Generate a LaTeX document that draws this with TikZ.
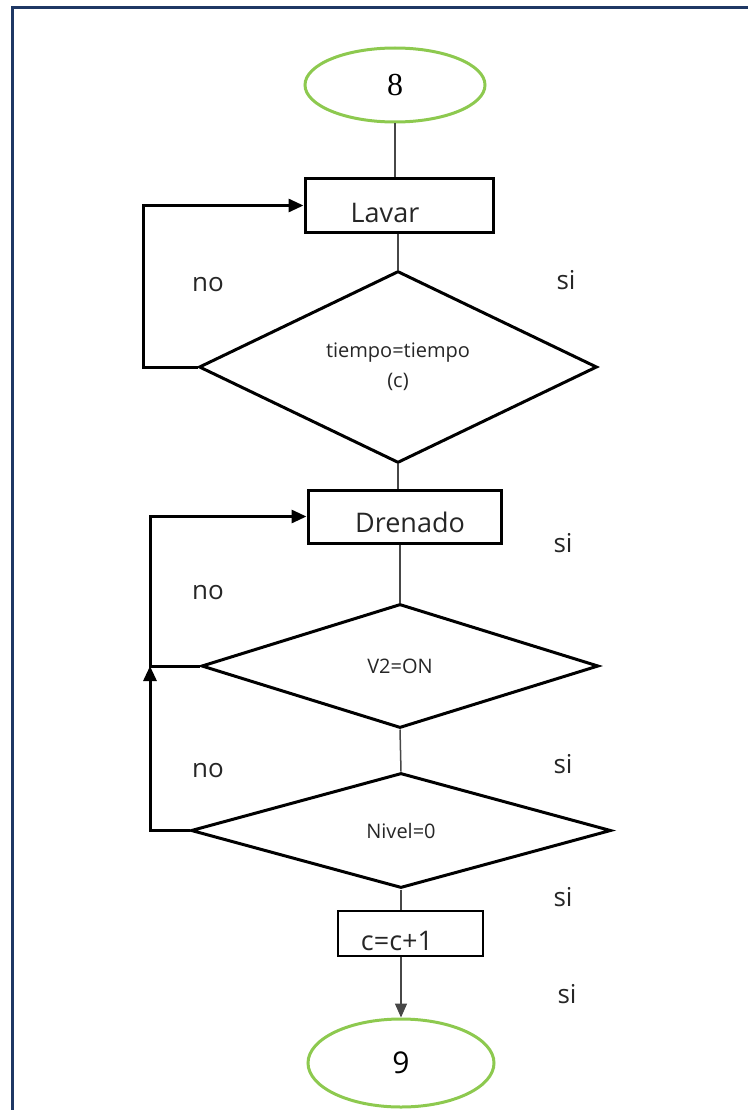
\documentclass[tikz,border=0pt]{standalone}
\usepackage{fontspec}
\setmainfont{Open Sans}
\newfontfamily\serifnum{Liberation Serif}
\usetikzlibrary{shapes.geometric,arrows.meta}
\definecolor{framenavy}{HTML}{1F3864}
\definecolor{termgreen}{HTML}{8DC94F}
\definecolor{inkgray}{HTML}{262626}
\begin{document}
\begin{tikzpicture}[x=1pt,y=-1pt,
  term/.style={ellipse,draw=termgreen,line width=3pt,inner sep=0pt},
  procbox/.style={rectangle,draw=black,line width=3pt,inner sep=0pt},
  smallbox/.style={rectangle,draw=black,line width=1.5pt,inner sep=0pt},
  decision/.style={diamond,draw=black,line width=3pt,inner sep=0pt,align=center,
    text=inkgray,font=\fontsize{20}{30}\selectfont},
  flow/.style={draw=inkgray!85,line width=1.5pt},
  loopback/.style={draw=black,line width=3pt,-{Triangle[length=15pt,width=13pt]}},
  bigtext/.style={font=\fontsize{27}{32}\selectfont,text=inkgray,inner sep=0pt},
  answer/.style={font=\fontsize{26}{30}\selectfont,text=inkgray,inner sep=0pt},
]
\useasboundingbox (0,0) rectangle (747,1110);

% page frame (open at right and bottom)
\draw[framenavy,line width=3pt] (12,1112) -- (12,8) -- (749,8);

% terminals
\node[term,minimum width=180pt,minimum height=74pt] (e8) at (395,85)
  {\serifnum\fontsize{32}{36}\selectfont 8};
\node[term,minimum width=186pt,minimum height=88pt] (e9) at (401,1063)
  {\fontsize{30}{34}\selectfont 9};

% process boxes
\node[procbox,minimum width=188pt,minimum height=53pt] (lavar) at (399,205.5) {};
\node[bigtext] (lavartxt) at (385,213) {Lavar};
\node[procbox,minimum width=193pt,minimum height=53pt] (drenado) at (404.5,516.5) {};
\node[bigtext] (drenadotxt) at (410,522) {Drenado};
\node[smallbox,minimum width=145pt,minimum height=45pt] (cbox) at (410.5,933.5) {};
\node[bigtext] (ctxt) at (397,941) {c=c+1};

% decisions
\node[decision,minimum width=398pt,minimum height=171pt] (d1) at (398,367)
  {tiempo=tiempo\\(c)};
\node[decision,minimum width=397pt,minimum height=124pt] (d2) at (400,666) {V2=ON};
\node[decision,minimum width=420pt,minimum height=115pt] (d3) at (401,830.5) {Nivel=0};

% main flow
\draw[flow] (e8.south) -- (e8.south |- lavar.north);
\draw[flow] (d1.north |- lavar.south) -- (d1.north);
\draw[flow] (d1.south) -- (d1.south |- drenado.north);
\draw[flow] (d2.north |- drenado.south) -- (d2.north);
\draw[flow] (d2.south) -- (d3.north);
\draw[flow] (d3.south) -- (d3.south |- cbox.north);
\draw[flow,-{Triangle[length=14pt,width=12pt]}] (d3.south |- cbox.south) -- (e9.north);

% "no" branches
\coordinate (k1) at (143,367);
\coordinate (k2) at (150,666);
\coordinate (k3) at (150,830.5);
\draw[loopback] (d1.west) -- (k1) |- (lavar.west);
\draw[loopback] (d2.west) -- (k2) |- (drenado.west);
\draw[loopback] (d3.west) -- (k3) -- (k2);

% branch labels
\node[answer] (no1) at (208,285) {no};
\node[answer] (no2) at (208,593) {no};
\node[answer] (no3) at (208,771) {no};
\node[answer] (si1) at (566,280) {si};
\node[answer] (si2) at (563,543) {si};
\node[answer] (si3) at (563,764) {si};
\node[answer] (si4) at (563,897) {si};
\node[answer] (si5) at (567,994) {si};
\end{tikzpicture}
\end{document}
